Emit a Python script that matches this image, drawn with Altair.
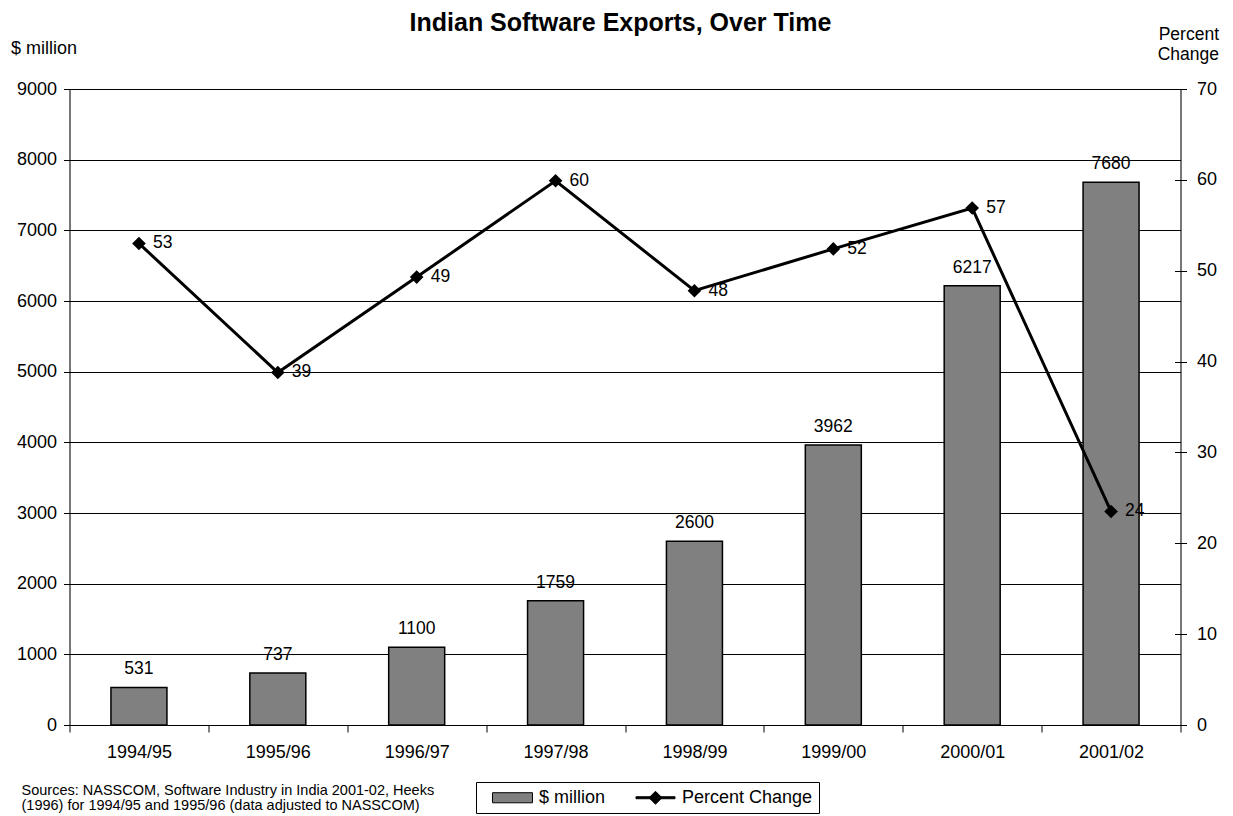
import altair as alt
import pandas as pd

years = ["1994/95", "1995/96", "1996/97", "1997/98", "1998/99", "1999/00", "2000/01", "2001/02"]
exports = [531, 737, 1100, 1759, 2600, 3962, 6217, 7680]
pct_change = [53.0, 38.8, 49.3, 59.9, 47.8, 52.4, 56.9, 23.5]
pct_labels = ["53", "39", "49", "60", "48", "52", "57", "24"]
series = ["$ million", "Percent Change"]
left_ticks = [0, 1000, 2000, 3000, 4000, 5000, 6000, 7000, 8000, 9000]
right_ticks = [0, 10, 20, 30, 40, 50, 60, 70]

FONT = "Liberation Sans"
FS = 18

df = pd.DataFrame({"year": years, "exports": exports, "pct": pct_change, "pct_label": pct_labels})
df_leg = pd.DataFrame({"series": series})

X = alt.X(
    "year:N", sort=None,
    scale=alt.Scale(paddingInner=0, paddingOuter=0),
    axis=alt.Axis(
        tickBand="extent", labelAngle=0, labelFontSize=FS, labelFont=FONT, labelColor="black",
        labelPadding=11, tickSize=7, tickColor="black", domainColor="black",
        title=["Sources: NASSCOM, Software Industry in India 2001-02, Heeks",
               "(1996) for 1994/95 and 1995/96 (data adjusted to NASSCOM)"],
        titleFont=FONT, titleFontSize=14.5, titleFontWeight="normal", titleColor="black",
        titleAlign="left", titleBaseline="top", titleX=-48.5, titleY=58, titleLineHeight=15.5,
    ),
)

Y_left = alt.Y(
    "exports:Q",
    scale=alt.Scale(domain=[0, 9000], nice=False),
    axis=alt.Axis(
        values=left_ticks, format="d", grid=True, gridColor="black", gridWidth=1,
        labelFontSize=FS, labelFont=FONT, labelColor="black", labelPadding=7,
        tickSize=6, tickColor="black", domainColor="black",
        title="$ million", titleFont=FONT, titleFontSize=18, titleFontWeight="normal",
        titleColor="black", titleAngle=0, titleAlign="left", titleBaseline="middle",
        titleX=-59, titleY=-41,
    ),
)

Y_right = alt.Y(
    "pct:Q",
    scale=alt.Scale(domain=[0, 70], nice=False),
    axis=alt.Axis(
        orient="right", values=right_ticks, grid=False,
        labelFontSize=FS, labelFont=FONT, labelColor="black", labelPadding=10,
        tickSize=6, tickColor="black", domainColor="black",
        title=["Percent", "Change"], titleFont=FONT, titleFontSize=17.5, titleFontWeight="normal",
        titleColor="black", titleAngle=0, titleAlign="right", titleBaseline="alphabetic",
        titleX=38, titleY=-50, titleLineHeight=20,
    ),
)

# inner half of the right-axis ticks (ticks cross the axis line)
Y_right_inner = alt.Y(
    "pct:Q",
    scale=alt.Scale(domain=[0, 70], nice=False),
    axis=alt.Axis(
        orient="right", values=right_ticks, grid=False, labels=False, domain=False,
        tickSize=6, tickColor="black", offset=-6, title=None,
    ),
)

base_left = alt.Chart(df).encode(x=X, y=Y_left)
bars = base_left.mark_bar(fill="#808080", stroke="black", strokeWidth=1.5, width=56)
bar_text = base_left.mark_text(dy=-13, baseline="alphabetic", font=FONT, fontSize=17.5, color="black").encode(
    text="exports:Q"
)

base_right = alt.Chart(df).encode(x=X, y=Y_right)
line = base_right.mark_line(color="black", strokeWidth=3)
points = base_right.mark_point(shape="diamond", filled=True, color="black", size=185, opacity=1)
pct_text = alt.Chart(df).mark_text(
    align="left", baseline="middle", dx=14, font=FONT, fontSize=17.5, color="black"
).encode(x=X, y=Y_right_inner, text="pct_label:N")

leg = alt.Legend(
    title=None, orient="none", legendX=406.5, legendY=693, direction="horizontal",
    strokeColor="black", fillColor="white", padding=6, labelFont=FONT, labelFontSize=18,
    labelColor="black", symbolOffset=21, labelOffset=17, columnPadding=19, symbolSize=324,
    symbolStrokeColor="black", symbolStrokeWidth=1,
)
legend_layer = alt.Chart(df_leg).transform_filter("false").mark_point(filled=True, opacity=1).encode(
    color=alt.Color("series:N", scale=alt.Scale(domain=series, range=["#808080", "black"]), legend=leg),
    shape=alt.Shape(
        "series:N",
        scale=alt.Scale(domain=series, range=[
            "M-2.22,-0.56H2.22V0.56H-2.22Z",
            "M-2.17,-0.11H2.17V0.11H-2.17Z M0,-0.72L0.72,0L0,0.72L-0.72,0Z",
        ]),
        legend=leg,
    ),
)

chart = alt.layer(
    alt.layer(bars, bar_text),
    alt.layer(line, points),
    pct_text,
    legend_layer,
).resolve_scale(y="independent").properties(
    width=1111, height=636,
    autosize=alt.AutoSizeParams(type="none"),
    padding={"left": 61.5, "top": 81, "right": 40, "bottom": 91},
    title=alt.Title("Indian Software Exports, Over Time", font=FONT, fontSize=25, fontWeight="bold",
                    color="black", anchor="middle", frame="group", baseline="alphabetic",
                    offset=-30.5, dx=-4.5),
).configure_view(strokeWidth=0).configure(background="white")

chart.save("out.html", embed_options={"renderer": "svg", "actions": False})
